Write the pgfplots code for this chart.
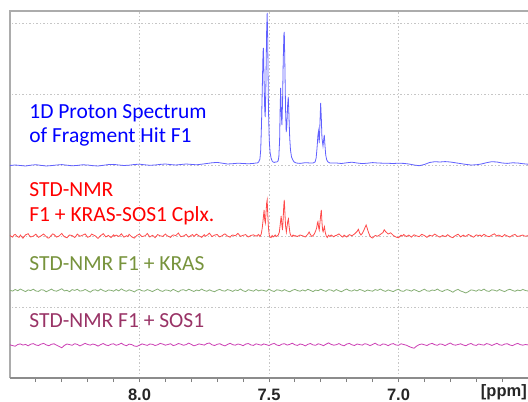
\documentclass[border=0pt]{standalone}
\usepackage{pgfplots}
\pgfplotsset{compat=1.18}
\usepackage{fontspec}
\setmainfont{Carlito}
\newfontfamily\tickfont{Liberation Sans}
\definecolor{bluetxt}{HTML}{0000FF}
\definecolor{bluelin}{HTML}{6060FF}
\definecolor{redtxt}{HTML}{FF0000}
\definecolor{redlin}{HTML}{FF4A4A}
\definecolor{greentxt}{HTML}{77933C}
\definecolor{greenlin}{HTML}{86AE74}
\definecolor{purptxt}{HTML}{993366}
\definecolor{purplin}{HTML}{CC40B4}
\begin{document}
\begin{tikzpicture}
\useasboundingbox (0,0) rectangle (528bp,402bp);
\begin{axis}[
  at={(10bp,24bp)}, anchor=south west,
  width=518bp, height=367bp, scale only axis,
  x dir=reverse, xmin=6.5, xmax=8.5, ymin=0, ymax=367,
  clip=false,
  axis line style={draw=none},
  xtick={7,7.5,8}, xticklabels={7.0,7.5,8.0},
  minor xtick={6.6,6.7,6.8,6.9,7.1,7.2,7.3,7.4,7.6,7.7,7.8,7.9,8.1,8.2,8.3,8.4},
  ytick={71,142,213,284,355}, yticklabels={},
  ytick style={draw=none},
  xtick pos=bottom, tick align=outside,
  major tick length=4bp, minor tick length=4bp,
  x tick style={color=gray, line width=0.9bp},
  xmajorgrids, ymajorgrids,
  grid style={color=gray!45, line width=0.8bp, dash pattern=on 1.5bp off 2bp},
  xticklabel style={font=\tickfont\bfseries\fontsize{16.5bp}{18bp}\selectfont, anchor=base, yshift=-18bp, inner sep=0pt, text=black!85},
]
% axis frame
\draw[color=gray!65, line width=1.3bp] (rel axis cs:0,0) -- (rel axis cs:0,1) -- (rel axis cs:1,1);
\draw[color=gray!90, line width=1.2bp] (rel axis cs:0,0) -- (rel axis cs:1,0);

% blue: 1D proton spectrum
\addplot[color=bluelin, line width=0.8bp] coordinates {
(8.50,212.5)(8.48,213)(8.46,212.5)(8.44,212)(8.42,212.8)(8.40,213.3)(8.38,212.6)(8.36,212)(8.34,212.4)(8.32,213)
(8.30,213.4)(8.28,212.8)(8.26,212.2)(8.24,212.6)(8.22,213.2)(8.20,213)(8.18,212.3)(8.16,212)(8.14,212.7)(8.12,213.4)
(8.10,213.6)(8.08,213)(8.06,212.5)(8.04,212.8)(8.02,213.5)(8.00,213.8)(7.98,213.2)(7.96,212.7)(7.94,213)(7.92,213.6)
(7.90,214)(7.88,213.4)(7.86,213)(7.84,213.5)(7.82,214)(7.80,213.6)(7.78,213.2)(7.76,213.8)(7.74,214.5)(7.72,215.2)
(7.70,215.6)(7.68,214.8)(7.66,214)(7.64,214.3)(7.62,214.8)(7.60,214.5)(7.58,214.2)(7.56,214.6)(7.55,215)
(7.545,215)(7.540,216)(7.535,219)(7.532,228)(7.529,253)(7.526,288)(7.523,326)(7.5215,330)(7.519,298)(7.5165,268)
(7.5145,261)(7.512,293)(7.509,348)(7.507,365)(7.505,338)(7.502,268)(7.499,238)(7.496,226)(7.492,220)(7.488,217)
(7.484,216)(7.480,215.5)(7.475,216)(7.470,216)(7.465,217)(7.462,221)(7.459,238)(7.457,268)(7.455,290)(7.4525,263)
(7.450,253)(7.4475,278)(7.445,318)(7.4425,343)(7.441,346)(7.439,318)(7.436,268)(7.4335,246)(7.431,253)(7.428,273)
(7.4255,281)(7.423,263)(7.420,240)(7.417,228)(7.413,221)(7.408,218)(7.403,216)(7.395,215)(7.38,214.6)(7.36,215.3)
(7.34,215)(7.330,215)(7.322,216)(7.318,220)(7.3145,230)(7.311,243)(7.3085,247)(7.306,235)(7.3035,253)(7.3005,275)
(7.298,260)(7.2955,240)(7.2915,232)(7.2885,239)(7.2865,243)(7.284,233)(7.281,223)(7.277,218)(7.272,216)(7.265,215)
(7.24,215)(7.22,214.5)(7.20,215.2)(7.18,215.8)(7.16,215)(7.14,214.4)(7.12,214.8)(7.10,215.4)(7.08,215)(7.06,214.8)
(7.04,214.7)(7.02,214.5)(7.00,214.8)(6.98,214.6)(6.96,214)(6.94,213)(6.92,212.3)(6.90,213.5)(6.88,215.5)(6.86,216.3)
(6.84,216)(6.82,216.4)(6.80,216)(6.78,215.2)(6.76,214.4)(6.74,213.6)(6.72,213)(6.70,213.2)(6.68,214)(6.66,215.3)
(6.64,216.3)(6.62,216)(6.60,215)(6.58,214.6)(6.56,215.2)(6.54,215)(6.52,214.3)(6.50,213.8)
};

% red: STD-NMR F1 + KRAS-SOS1
\addplot[color=redlin, line width=0.8bp] coordinates {
(8.50,142.5)(8.495,141.6)(8.49,140.8)(8.485,142.9)(8.48,143.6)(8.47,141.2)(8.465,140.6)(8.46,142.9)(8.45,139.8)(8.445,141.5)(8.44,143.1)(8.43,144.3)(8.425,142.4)(8.42,141.0)(8.41,141.9)
(8.40,143.8)(8.395,142.2)(8.39,140.6)(8.38,142.2)(8.375,143.1)(8.37,144.0)(8.36,141.4)(8.355,140.2)(8.35,139.9)(8.34,142.7)(8.335,144.1)(8.33,143.5)(8.32,140.9)(8.31,142.1)
(8.30,144.6)(8.295,142.6)(8.29,141.3)(8.28,140.2)(8.275,141.8)(8.27,143.0)(8.26,142.4)(8.25,140.5)(8.245,142.0)(8.24,143.9)(8.23,141.7)(8.22,142.8)(8.21,144.1)
(8.20,140.7)(8.19,141.8)(8.185,143.9)(8.18,143.3)(8.17,142.0)(8.165,140.6)(8.16,139.6)(8.15,142.5)(8.145,143.2)(8.14,144.4)(8.13,141.1)(8.12,142.6)(8.11,140.4)
(8.10,143.2)(8.095,141.9)(8.09,142.9)(8.08,141.5)(8.075,142.7)(8.07,144.2)(8.06,140.8)(8.05,142.3)(8.045,141.4)(8.04,143.7)(8.03,141.2)(8.02,139.9)(8.01,142.6)
(8.00,143.9)(7.995,142.5)(7.99,141.4)(7.98,142.1)(7.975,143.0)(7.97,144.5)(7.96,141.0)(7.95,142.7)(7.945,141.7)(7.94,140.3)(7.93,143.4)(7.92,142.2)(7.91,141.6)
(7.90,144.0)(7.895,142.7)(7.89,141.8)(7.88,140.6)(7.875,142.2)(7.87,143.1)(7.86,142.4)(7.85,145.0)(7.845,142.9)(7.84,141.3)(7.83,142.0)(7.82,143.6)(7.81,140.9)
(7.80,142.8)(7.795,143.4)(7.79,141.5)(7.78,143.9)(7.775,142.9)(7.77,142.1)(7.76,140.7)(7.75,143.3)(7.745,141.8)(7.74,142.6)(7.73,144.8)(7.72,141.4)(7.71,142.9)
(7.70,143.5)(7.695,142.0)(7.69,141.1)(7.68,142.4)(7.675,143.4)(7.67,144.1)(7.66,141.9)(7.65,140.8)(7.645,142.4)(7.64,143.0)(7.63,142.2)(7.62,144.6)(7.61,141.6)
(7.60,142.7)(7.59,143.4)(7.58,141.0)(7.57,142.5)(7.56,143.2)(7.55,141.8)(7.545,142.6)(7.54,143.5)
(7.535,141.5)(7.530,144)(7.526,150)(7.522,160)(7.519,168)(7.5165,158)(7.514,155)(7.5115,165)(7.509,175)(7.507,178)
(7.505,165)(7.502,150)(7.499,143)(7.496,141)(7.492,140.5)(7.488,142.5)(7.484,141)(7.480,142)(7.476,143)(7.472,141.5)
(7.468,142)(7.464,143)(7.460,146)(7.456,155)(7.453,162)(7.4505,154)(7.448,148)(7.4455,158)(7.443,172)(7.441,178)
(7.4385,165)(7.436,152)(7.433,146)(7.430,152)(7.4275,157)(7.425,159)(7.4225,152)(7.419,145)(7.415,142)(7.411,141.5)
(7.407,143)(7.403,141.8)(7.40,142.4)(7.39,141.5)(7.38,143)(7.37,142.2)(7.36,141)(7.35,143.8)(7.345,146)(7.34,143.5)
(7.335,141.5)(7.33,142.5)(7.325,144)(7.32,147)(7.316,150)(7.313,155)(7.311,156.3)(7.308,150)(7.306,148)(7.303,156)
(7.300,164)(7.298,168)(7.2955,156)(7.293,148)(7.291,146.3)(7.2885,149)(7.286,151.3)(7.283,146)(7.279,142)(7.275,140.5)
(7.27,142.8)(7.265,141.5)(7.26,143)(7.25,141.2)(7.245,142.3)(7.24,142.6)(7.23,144.1)(7.22,141.7)(7.215,140.9)(7.21,142.9)(7.20,141.0)(7.19,143.4)
(7.18,142.2)(7.17,144.0)(7.16,146.5)(7.155,148.7)(7.15,145)(7.145,143)(7.14,144.5)(7.135,147)(7.13,150)(7.125,153)
(7.12,149)(7.115,145)(7.11,142)(7.105,140.5)(7.10,140)(7.09,142.5)(7.08,141.8)(7.07,143.6)(7.06,145.5)(7.055,148.2)
(7.05,146.5)(7.04,144)(7.03,145.2)(7.02,142.5)(7.01,141)(7.00,140.2)(6.99,142.8)(6.985,141.9)(6.98,143.5)(6.97,141.4)(6.96,142.9)
(6.95,140.8)(6.945,142.1)(6.94,143.2)(6.93,142.1)(6.92,141.3)(6.915,142.6)(6.91,143.7)(6.90,142.5)(6.89,140.6)(6.885,141.8)(6.88,142.8)(6.87,141.9)(6.86,143.9)
(6.85,142.2)(6.845,141.3)(6.84,140.9)(6.83,142.6)(6.82,141.4)(6.815,142.2)(6.81,143.3)(6.80,141.2)(6.79,140.3)(6.785,141.6)(6.78,142.4)(6.77,143.8)(6.76,141.1)
(6.75,142.9)(6.745,142.0)(6.74,141.6)(6.73,143.5)(6.72,142.3)(6.715,141.4)(6.71,140.8)(6.70,143.1)(6.69,142.4)(6.685,143.0)(6.68,141.5)(6.67,143.7)(6.66,142.0)
(6.65,141.3)(6.645,142.0)(6.64,142.9)(6.63,144.2)(6.62,141.8)(6.615,142.9)(6.61,142.6)(6.60,141.2)(6.59,143.4)(6.585,142.6)(6.58,142.1)(6.57,140.9)(6.56,142.7)
(6.55,143.6)(6.545,142.3)(6.54,141.5)(6.53,142.2)(6.52,143.0)(6.515,142.2)(6.51,141.7)(6.50,142.4)
};

% green: STD-NMR F1 + KRAS
\addplot[color=greenlin, line width=0.8bp] coordinates {
(8.50,87.8)(8.49,86.9)(8.48,88.5)(8.47,87.2)(8.46,89.0)(8.45,87.6)(8.44,86.4)(8.43,88.1)(8.42,87.4)(8.41,88.8)
(8.40,87.0)(8.39,86.6)(8.38,88.3)(8.37,87.9)(8.36,86.2)(8.35,87.5)(8.34,88.9)(8.33,87.3)(8.32,86.8)(8.31,88.0)
(8.30,89.2)(8.29,87.1)(8.28,87.7)(8.27,86.3)(8.26,88.4)(8.25,87.6)(8.24,88.7)(8.23,86.9)(8.22,87.3)(8.21,88.6)
(8.20,87.2)(8.19,85.9)(8.18,87.8)(8.17,88.2)(8.16,87.0)(8.15,88.9)(8.14,87.4)(8.13,86.5)(8.12,88.0)(8.11,87.7)
(8.10,86.8)(8.09,88.5)(8.08,87.1)(8.07,89.1)(8.06,87.6)(8.05,86.7)(8.04,88.2)(8.03,87.3)(8.02,86.1)(8.01,87.9)
(8.00,88.6)(7.99,87.2)(7.98,86.9)(7.97,88.4)(7.96,87.5)(7.95,86.4)(7.94,87.8)(7.93,89.0)(7.92,87.3)(7.91,86.6)
(7.90,88.1)(7.89,87.7)(7.88,86.8)(7.87,88.7)(7.86,87.4)(7.85,86.0)(7.84,87.9)(7.83,88.3)(7.82,87.1)(7.81,88.8)
(7.80,87.6)(7.79,86.5)(7.78,88.0)(7.77,87.2)(7.76,88.9)(7.75,87.5)(7.74,86.7)(7.73,88.2)(7.72,87.0)(7.71,86.3)
(7.70,87.8)(7.69,88.6)(7.68,87.3)(7.67,86.9)(7.66,88.4)(7.65,87.7)(7.64,86.6)(7.63,88.1)(7.62,87.4)(7.61,89.0)
(7.60,87.2)(7.59,86.4)(7.58,88.3)(7.57,87.6)(7.56,86.8)(7.55,88.5)(7.54,87.1)(7.53,88.0)(7.52,87.5)(7.51,86.7)
(7.50,88.9)(7.49,87.3)(7.48,86.5)(7.47,88.2)(7.46,87.8)(7.45,86.9)(7.44,88.4)(7.43,87.1)(7.42,86.2)(7.41,87.7)
(7.40,88.6)(7.39,87.4)(7.38,86.8)(7.37,88.1)(7.36,87.0)(7.35,88.7)(7.34,87.6)(7.33,86.4)(7.32,88.0)(7.31,87.3)
(7.30,88.8)(7.29,87.5)(7.28,86.6)(7.27,88.3)(7.26,87.9)(7.25,86.7)(7.24,88.5)(7.23,87.2)(7.22,86.3)(7.21,87.8)
(7.20,88.9)(7.19,87.4)(7.18,86.9)(7.17,88.2)(7.16,87.1)(7.15,88.6)(7.14,87.7)(7.13,86.5)(7.12,88.0)(7.11,87.3)
(7.10,86.8)(7.09,88.4)(7.08,87.6)(7.07,89.0)(7.06,87.5)(7.05,86.6)(7.04,88.1)(7.03,87.2)(7.02,86.4)(7.01,87.9)
(7.00,88.7)(6.99,87.0)(6.98,86.7)(6.97,88.3)(6.96,87.8)(6.95,86.9)(6.94,88.5)(6.93,87.4)(6.92,86.2)(6.91,87.6)
(6.90,88.8)(6.89,87.1)(6.88,86.8)(6.87,88.0)(6.86,87.5)(6.85,88.9)(6.84,87.3)(6.83,86.5)(6.82,87.9)(6.81,88.4)
(6.80,87.2)(6.79,85.8)(6.78,87.6)(6.77,88.6)(6.76,87.0)(6.75,86.1)(6.74,85.0)(6.73,86.4)(6.72,88.1)(6.71,87.7)
(6.70,86.8)(6.69,88.3)(6.68,87.4)(6.67,88.9)(6.66,87.1)(6.65,86.6)(6.64,88.2)(6.63,87.8)(6.62,86.9)(6.61,88.5)
(6.60,87.3)(6.59,86.4)(6.58,87.9)(6.57,88.7)(6.56,87.6)(6.55,86.7)(6.54,88.0)(6.53,87.2)(6.52,88.6)(6.51,87.5)
(6.50,87.0)
};

% purple: STD-NMR F1 + SOS1
\addplot[color=purplin, line width=0.8bp] coordinates {
(8.50,33.2)(8.49,32.4)(8.48,31.8)(8.47,33.5)(8.46,34.1)(8.45,32.9)(8.44,33.6)(8.43,32.2)(8.42,33.8)(8.41,34.4)
(8.40,33.0)(8.39,32.5)(8.38,33.9)(8.37,34.6)(8.36,33.1)(8.35,32.3)(8.34,33.7)(8.33,34.2)(8.32,32.8)(8.31,31.5)
(8.30,30.2)(8.29,32.6)(8.28,34.0)(8.27,33.4)(8.26,32.7)(8.25,34.3)(8.24,33.6)(8.23,32.1)(8.22,33.3)(8.21,34.7)
(8.20,33.5)(8.19,32.9)(8.18,34.0)(8.17,33.2)(8.16,31.9)(8.15,33.4)(8.14,34.5)(8.13,33.0)(8.12,32.4)(8.11,33.8)
(8.10,34.2)(8.09,32.7)(8.08,33.5)(8.07,34.8)(8.06,33.1)(8.05,32.3)(8.04,33.9)(8.03,33.4)(8.02,32.0)(8.01,31.6)
(8.00,32.8)(7.99,34.1)(7.98,33.3)(7.97,32.6)(7.96,34.0)(7.95,33.7)(7.94,32.5)(7.93,33.2)(7.92,34.6)(7.91,33.9)
(7.90,32.8)(7.89,33.5)(7.88,34.3)(7.87,32.4)(7.86,33.1)(7.85,34.5)(7.84,33.8)(7.83,32.7)(7.82,33.4)(7.81,34.9)
(7.80,33.6)(7.79,32.2)(7.78,33.0)(7.77,34.1)(7.76,33.5)(7.75,32.9)(7.74,34.4)(7.73,35.0)(7.72,33.2)(7.71,32.5)
(7.70,33.7)(7.69,34.3)(7.68,33.0)(7.67,32.1)(7.66,33.6)(7.65,34.7)(7.64,33.3)(7.63,32.8)(7.62,34.0)(7.61,33.4)
(7.60,32.3)(7.59,33.9)(7.58,34.5)(7.57,33.1)(7.56,32.6)(7.55,34.2)(7.54,33.5)(7.53,32.8)(7.52,34.1)(7.51,33.3)
(7.50,32.5)(7.49,33.8)(7.48,34.6)(7.47,33.0)(7.46,32.4)(7.45,33.9)(7.44,34.3)(7.43,32.9)(7.42,33.6)(7.41,34.8)
(7.40,33.2)(7.39,32.6)(7.38,34.0)(7.37,33.4)(7.36,32.1)(7.35,33.7)(7.34,34.5)(7.33,33.1)(7.32,32.7)(7.31,34.2)
(7.30,33.5)(7.29,32.3)(7.28,33.8)(7.27,35.1)(7.26,33.6)(7.25,32.8)(7.24,33.3)(7.23,34.4)(7.22,33.0)(7.21,32.2)
(7.20,33.9)(7.19,34.6)(7.18,33.2)(7.17,32.5)(7.16,34.0)(7.15,33.4)(7.14,32.9)(7.13,34.3)(7.12,33.7)(7.11,32.4)
(7.10,33.5)(7.09,34.8)(7.08,33.1)(7.07,32.6)(7.06,34.1)(7.05,33.6)(7.04,32.3)(7.03,33.8)(7.02,34.4)(7.01,33.0)
(7.00,32.7)(6.99,34.2)(6.98,33.5)(6.97,32.8)(6.96,31.6)(6.95,30.5)(6.94,29.8)(6.93,31.9)(6.92,33.4)(6.91,34.0)
(6.90,33.2)(6.89,32.5)(6.88,33.9)(6.87,34.6)(6.86,33.3)(6.85,32.7)(6.84,34.1)(6.83,33.6)(6.82,32.4)(6.81,33.8)
(6.80,35.0)(6.79,33.4)(6.78,32.8)(6.77,33.5)(6.76,34.2)(6.75,33.0)(6.74,32.3)(6.73,33.7)(6.72,34.5)(6.71,33.1)
(6.70,32.6)(6.69,34.0)(6.68,33.3)(6.67,32.9)(6.66,34.4)(6.65,33.8)(6.64,32.5)(6.63,33.6)(6.62,34.7)(6.61,33.2)
(6.60,32.7)(6.59,33.9)(6.58,34.3)(6.57,33.0)(6.56,32.4)(6.55,33.7)(6.54,34.6)(6.53,33.4)(6.52,32.8)(6.51,33.5)
(6.50,33.1)
};

% labels
\begin{scope}[every node/.style={anchor=base west, inner sep=0pt, font=\fontsize{21.5bp}{24bp}\selectfont}]
\node[text=bluetxt] at (axis cs:8.426,259) {1D Proton Spectrum};
\node[text=bluetxt] at (axis cs:8.426,235) {of Fragment Hit F1};
\node[text=redtxt] at (axis cs:8.426,181) {STD-NMR};
\node[text=redtxt] at (axis cs:8.426,156) {F1 + KRAS-SOS1 Cplx.};
\node[text=greentxt] at (axis cs:8.426,107) {STD-NMR F1 + KRAS};
\node[text=purptxt] at (axis cs:8.426,50.5) {STD-NMR F1 + SOS1};
\end{scope}
\node[anchor=base east, inner sep=0pt, text=black!85, font=\tickfont\bfseries\fontsize{16.5bp}{18bp}\selectfont, yshift=-18bp, xshift=-1bp] at (rel axis cs:1,0) {[ppm]};
\end{axis}
\end{tikzpicture}
\end{document}
